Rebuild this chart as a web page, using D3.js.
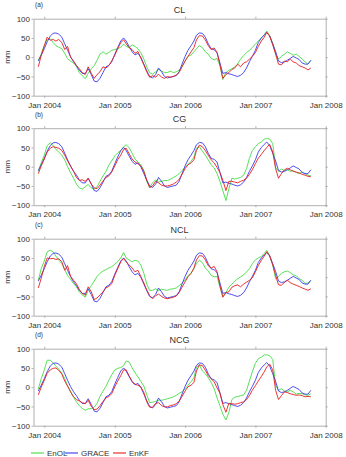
<!DOCTYPE html>
<html><head><meta charset="utf-8">
<script src="https://cdn.jsdelivr.net/npm/d3@7"></script>
<style>
html,body{margin:0;padding:0;background:#fff;}
svg{display:block;font-family:"Liberation Sans",Arial,sans-serif;}
</style></head>
<body><svg id="c" width="346" height="457"></svg>
<script>
// semi-monthly sample dates: 1st and 16th of each month, Dec 2003 .. Oct 2007
const dates = d3.range(94).map(i => new Date(2003, 11 + Math.floor(i / 2), i % 2 ? 16 : 1));

const grace = [-10,5,22,40,55,62,63,60,52,35,18,2,-12,-22,-34,-42,-42,-30,-45,-62,-64,-55,-40,-25,-21,-12,
  8,25,42,50,42,28,14,6,10,0,-18,-35,-50,-54,-45,-28,-38,-50,-54,-52,-50,-48,-38,-18,
  2,18,30,42,57,63,62,52,35,22,19,12,-15,-42,-40,-43,-45,-48,-50,-47,-40,-28,-12,2,
  18,38,50,58,64,55,35,15,-10,-14,-12,-8,-3,2,-2,-6,-15,-18,-18,-8];

const enolCL = [-8,8,30,46,48,38,30,26,22,10,-4,-10,-15,-24,-40,-48,-56,-42,-30,-22,-8,8,14,8,12,18,
  20,22,26,34,28,25,32,28,22,12,-5,-25,-40,-44,-38,-32,-36,-40,-40,-36,-40,-38,-34,-25,
  -10,2,6,14,22,30,25,14,8,-3,-7,-3,-22,-58,-40,-34,-30,-25,-18,-5,4,12,18,25,
  34,42,50,58,68,56,36,8,-5,2,8,14,10,5,8,2,-5,-12,-18,-8];
const enkfCL = [-25,5,30,52,44,46,42,46,38,20,28,0,-10,-22,-30,-40,-45,-25,-42,-55,-45,-38,-25,-28,-22,-10,
  5,22,38,45,35,25,20,10,15,-2,-20,-38,-52,-48,-52,-44,-52,-55,-50,-52,-50,-46,-40,-25,
  -10,2,14,25,45,56,55,45,30,20,24,12,-20,-55,-45,-40,-32,-28,-18,-25,-15,-12,-5,2,
  12,28,42,52,65,55,32,8,-18,-20,-10,-12,-5,-12,-15,-22,-25,-28,-33,-28];

const enolCG = [-12,10,30,55,62,55,45,38,30,18,0,-15,-30,-45,-55,-58,-52,-46,-55,-58,-52,-38,-24,-12,4,15,
  28,36,42,52,57,50,35,20,12,5,-10,-38,-54,-42,-34,-40,-38,-36,-36,-33,-28,-24,-18,-10,
  -2,6,14,25,48,52,40,30,18,5,-3,-18,-38,-62,-88,-58,-30,-32,-30,-28,-22,-5,22,42,
  52,60,64,72,73,72,60,-2,-12,-6,-10,-8,-12,-10,-15,-18,-14,-18,-22,-24];
const enkfCG = [-18,2,20,38,48,52,50,48,42,30,15,2,-12,-28,-36,-34,-38,-30,-45,-55,-57,-48,-37,-28,-24,-14,
  2,18,30,45,48,34,20,12,8,2,-12,-35,-54,-50,-38,-42,-48,-50,-50,-48,-45,-40,-33,-20,
  -5,5,10,18,42,56,52,42,30,18,10,-2,-15,-35,-62,-38,-38,-40,-42,-38,-35,-30,-20,-8,
  8,22,32,42,50,58,38,-5,-30,-18,-8,-4,-8,-12,-14,-16,-20,-22,-25,-26];

const enolNCL = [-8,22,42,66,70,66,55,44,36,20,4,-5,-17,-25,-38,-46,-52,-34,-22,-10,2,10,16,20,24,27,
  34,40,50,64,50,45,40,44,42,32,10,-18,-34,-34,-30,-35,-31,-33,-34,-31,-30,-28,-22,-15,
  -8,4,10,22,36,44,38,24,16,5,1,2,-26,-50,-40,-26,-18,-10,-4,1,6,14,22,35,
  45,50,54,62,70,56,32,-4,2,10,14,16,12,6,4,-4,-8,-16,-15,-8];
const enkfNCL = [-28,-3,28,50,48,49,46,48,40,18,30,3,-8,-17,-32,-42,-47,-25,-38,-58,-54,-46,-38,-28,-24,-17,
  5,22,40,49,40,32,24,14,18,2,-15,-33,-48,-56,-48,-44,-50,-54,-56,-54,-52,-49,-40,-26,
  -12,1,10,24,45,56,55,45,30,24,28,14,-22,-52,-40,-38,-26,-22,-20,-25,-18,-13,-8,-2,
  14,30,44,55,66,56,32,5,-20,-21,-13,-8,-14,-18,-21,-24,-28,-31,-34,-30];

const enolNCG = [-5,22,45,70,70,63,55,47,36,23,3,-10,-26,-38,-48,-55,-60,-56,-56,-52,-42,-24,-10,2,18,32,
  45,49,51,56,68,66,50,38,27,15,3,-20,-40,-39,-37,-34,-34,-32,-30,-28,-25,-21,-16,-12,
  -4,5,14,25,52,58,42,35,25,13,-4,-28,-48,-70,-85,-66,-32,-26,-24,-22,-20,-8,16,40,
  62,74,78,84,84,82,72,5,-8,-4,-10,-12,-8,-12,-18,-16,-17,-20,-21,-17];
const enkfNCG = [-20,0,18,36,45,49,50,44,34,16,3,-12,-25,-32,-36,-40,-43,-34,-50,-58,-57,-48,-37,-28,-24,-17,
  1,16,30,45,45,30,15,8,5,1,-14,-38,-52,-52,-42,-40,-48,-51,-51,-48,-46,-43,-36,-24,
  -10,1,5,13,42,58,56,44,30,22,14,-2,-15,-45,-65,-42,-43,-44,-43,-40,-38,-32,-22,-8,
  4,16,28,40,53,60,45,-8,-32,-22,-12,-14,-17,-19,-21,-20,-22,-25,-24,-25];

const panelLabels = ["(a)", "(b)", "(c)", "(d)"];
const panelTitles = ["CL", "CG", "NCL", "NCG"];
const enolSeries = [enolCL, enolCG, enolNCL, enolNCG];
const enkfSeries = [enkfCL, enkfCG, enkfNCL, enkfNCG];
const yTicks = [-100, -50, 0, 50, 100];
const xTickDates = [new Date(2004,0,1), new Date(2005,0,1), new Date(2006,0,1), new Date(2007,0,1), new Date(2008,0,1)];
const legendNames = ["EnOL", "GRACE", "EnKF"];
const colors = {EnOL: "#44dd44", GRACE: "#3a3aee", EnKF: "#e81e1e"};

const svg = d3.select("#c");
const L = 33.5, R = 325.7, PH = 77;
const tops = [18.7, 128.2, 238.7, 348.7];
const x = d3.scaleTime().domain([new Date(2003,10,6), new Date(2008,0,1)]).range([L, R]);
const fmt = d3.timeFormat("%b %Y");
const axisColor = "#9a9a9a", textColor = "#333";

function styleAxis(g) {
  g.selectAll(".domain").attr("stroke", axisColor).attr("stroke-width", 0.8);
  g.selectAll(".tick line").attr("stroke", axisColor).attr("stroke-width", 0.8);
  g.selectAll("text").attr("fill", textColor).attr("font-size", 8).attr("font-family", "Liberation Sans, Arial, sans-serif");
}

panelTitles.forEach((title, p) => {
  const top = tops[p];
  const y = d3.scaleLinear().domain([-100, 100]).range([top + PH, top]);
  const g = svg.append("g");

  g.append("g").attr("transform", `translate(0,${top + PH})`)
    .call(d3.axisBottom(x).tickValues(xTickDates).tickFormat(fmt).tickSize(2).tickSizeOuter(0).tickPadding(4.5))
    .call(styleAxis);
  g.append("g").attr("transform", `translate(0,${top})`)
    .call(d3.axisTop(x).tickValues(xTickDates).tickFormat("").tickSize(2).tickSizeOuter(0))
    .call(styleAxis);
  g.append("g").attr("transform", `translate(${L},0)`)
    .call(d3.axisLeft(y).tickValues(yTicks).tickSize(2).tickSizeOuter(0).tickPadding(1.5))
    .call(styleAxis);
  g.append("g").attr("transform", `translate(${R},0)`)
    .call(d3.axisRight(y).tickValues(yTicks).tickFormat("").tickSize(2).tickSizeOuter(0))
    .call(styleAxis);

  const line = d3.line().x((d, i) => x(dates[i])).y(d => y(d));
  [["EnOL", enolSeries[p]], ["GRACE", grace], ["EnKF", enkfSeries[p]]].forEach(([name, vals]) => {
    g.append("path").datum(vals).attr("d", line).attr("fill", "none")
      .attr("stroke", colors[name]).attr("stroke-width", 0.9).attr("stroke-linejoin", "round");
  });

  g.append("text").attr("x", (L + R) / 2).attr("y", top - 6).attr("text-anchor", "middle")
    .attr("font-size", 9).attr("fill", textColor).text(title);
  g.append("text").attr("x", 35).attr("y", top - 11.5)
    .attr("font-size", 6.5).attr("fill", textColor).text(panelLabels[p]);
  g.append("text").attr("transform", `translate(9.5,${top + PH / 2}) rotate(-90)`)
    .attr("text-anchor", "middle").attr("font-size", 8).attr("fill", textColor).text("mm");
});

// legend
const legX = [31, 65, 113];
const legY = 453;
legendNames.forEach((name, i) => {
  svg.append("line").attr("x1", legX[i]).attr("x2", legX[i] + 13).attr("y1", legY).attr("y2", legY)
    .attr("stroke", colors[name]).attr("stroke-width", 1.1);
  svg.append("text").attr("x", legX[i] + 16).attr("y", legY + 3).attr("font-size", 8)
    .attr("fill", textColor).text(name);
});
</script>
</body></html>
